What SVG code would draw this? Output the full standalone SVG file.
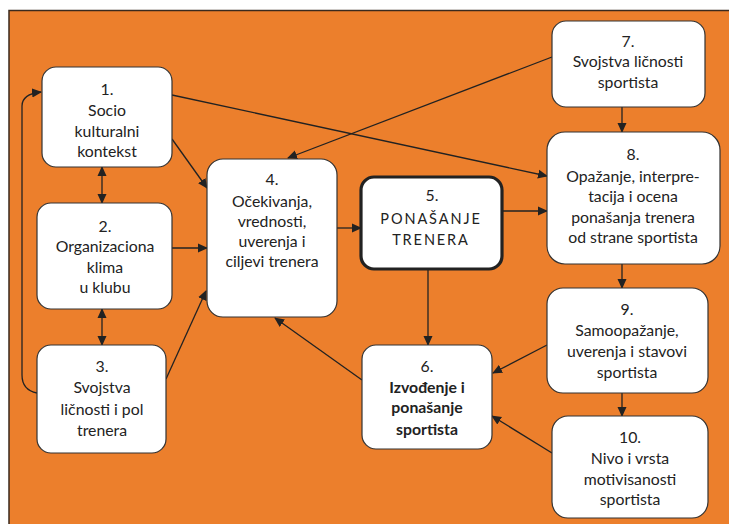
<svg xmlns="http://www.w3.org/2000/svg" width="729" height="524" viewBox="0 0 729 524">
<defs>
<style>
.bg{fill:#EC7F2C;stroke:#3a2a1e;stroke-width:1.5}
.box{fill:#fff;stroke:#333;stroke-width:1.2}
.thick{fill:#fff;stroke:#222;stroke-width:3.2}
text{font-family:Lato,"Open Sans","Liberation Sans",sans-serif;font-size:15.8px;fill:#222;text-anchor:middle}
.b{font-weight:bold}
.sp{letter-spacing:1.9px;font-size:14.5px}
.c{fill:none;stroke:#222;stroke-width:1.3}
</style>
<marker id="ah" markerWidth="10" markerHeight="10" refX="9" refY="5" orient="auto" markerUnits="userSpaceOnUse">
<path d="M0,0.5 L10,5 L0,9.5 Z" fill="#222"/>
</marker>
<marker id="as" markerWidth="10" markerHeight="10" refX="1" refY="5" orient="auto" markerUnits="userSpaceOnUse">
<path d="M10,0.5 L0,5 L10,9.5 Z" fill="#222"/>
</marker>
</defs>
<rect x="0" y="0" width="729" height="524" fill="#fff"/>
<rect class="bg" x="9" y="10.5" width="730" height="530"/>

<g id="connectors">
<line class="c" x1="172" y1="95" x2="547" y2="176" marker-end="url(#ah)"/>
<line class="c" x1="552" y1="57" x2="288" y2="158" marker-end="url(#ah)"/>
<line class="c" x1="172" y1="139" x2="207" y2="188" marker-end="url(#ah)"/>
<line class="c" x1="102" y1="167" x2="102" y2="203" marker-start="url(#as)" marker-end="url(#ah)"/>
<line class="c" x1="172" y1="248" x2="207" y2="248" marker-end="url(#ah)"/>
<line class="c" x1="102" y1="309" x2="102" y2="345" marker-start="url(#as)" marker-end="url(#ah)"/>
<line class="c" x1="166" y1="379" x2="206" y2="291" marker-end="url(#ah)"/>
<path class="c" d="M37,393 Q22,390 22,375 L22,106 Q22,94 41,92" marker-end="url(#ah)"/>
<line class="c" x1="337" y1="228" x2="361" y2="228" marker-end="url(#ah)"/>
<line class="c" x1="502" y1="211" x2="547" y2="211" marker-end="url(#ah)"/>
<line class="c" x1="622" y1="107" x2="622" y2="132" marker-end="url(#ah)"/>
<line class="c" x1="622" y1="264" x2="622" y2="288" marker-end="url(#ah)"/>
<line class="c" x1="428" y1="269" x2="428" y2="345" marker-end="url(#ah)"/>
<line class="c" x1="547" y1="345" x2="493" y2="373" marker-end="url(#ah)"/>
<line class="c" x1="622" y1="393" x2="622" y2="416" marker-end="url(#ah)"/>
<line class="c" x1="552" y1="453" x2="492" y2="416" marker-end="url(#ah)"/>
<line class="c" x1="362" y1="380" x2="275" y2="318" marker-end="url(#ah)"/>
</g>

<g id="n1">
<rect class="box" x="42" y="67" width="130" height="100" rx="14"/>
<text x="107" y="95">1.</text>
<text x="107" y="116">Socio</text>
<text x="107" y="137">kulturalni</text>
<text x="107" y="157">kontekst</text>
</g>
<g id="n2">
<rect class="box" x="37" y="203" width="135" height="106" rx="14"/>
<text x="105" y="232">2.</text>
<text x="105" y="252">Organizaciona</text>
<text x="105" y="273">klima</text>
<text x="105" y="293">u klubu</text>
</g>
<g id="n3">
<rect class="box" x="37" y="345" width="129" height="108" rx="14"/>
<text x="102" y="372">3.</text>
<text x="102" y="393">Svojstva</text>
<text x="102" y="415">ličnosti i pol</text>
<text x="102" y="436">trenera</text>
</g>
<g id="n4">
<rect class="box" x="207" y="159" width="130" height="158" rx="16"/>
<text x="272" y="185">4.</text>
<text x="272" y="207">Očekivanja,</text>
<text x="272" y="227">vrednosti,</text>
<text x="272" y="247">uverenja i</text>
<text x="272" y="267">ciljevi trenera</text>
</g>
<g id="n5">
<rect class="thick" x="361" y="177" width="141" height="92" rx="13"/>
<text x="432" y="201">5.</text>
<text class="sp" x="431" y="224">PONAŠANJE</text>
<text class="sp" x="431" y="245">TRENERA</text>
</g>
<g id="n6">
<rect class="box" x="362" y="345" width="130" height="104" rx="14"/>
<text x="427" y="372">6.</text>
<text class="b" x="427" y="393">Izvođenje i</text>
<text class="b" x="427" y="413">ponašanje</text>
<text class="b" x="427" y="435">sportista</text>
</g>
<g id="n7">
<rect class="box" x="552" y="21" width="153" height="86" rx="14"/>
<text x="628" y="47">7.</text>
<text x="628" y="67">Svojstva ličnosti</text>
<text x="628" y="88">sportista</text>
</g>
<g id="n8">
<rect class="box" x="547" y="132" width="173" height="132" rx="18"/>
<text x="633" y="160">8.</text>
<text x="633" y="182">Opažanje, interpre-</text>
<text x="633" y="202">tacija i ocena</text>
<text x="633" y="223">ponašanja trenera</text>
<text x="633" y="243">od strane sportista</text>
</g>
<g id="n9">
<rect class="box" x="547" y="288" width="161" height="105" rx="16"/>
<text x="627" y="315">9.</text>
<text x="627" y="336">Samoopažanje,</text>
<text x="627" y="357">uverenja i stavovi</text>
<text x="627" y="378">sportista</text>
</g>
<g id="n10">
<rect class="box" x="552" y="416" width="156" height="102" rx="16"/>
<text x="630" y="443">10.</text>
<text x="630" y="464">Nivo i vrsta</text>
<text x="630" y="485">motivisanosti</text>
<text x="630" y="505">sportista</text>
</g>
</svg>
